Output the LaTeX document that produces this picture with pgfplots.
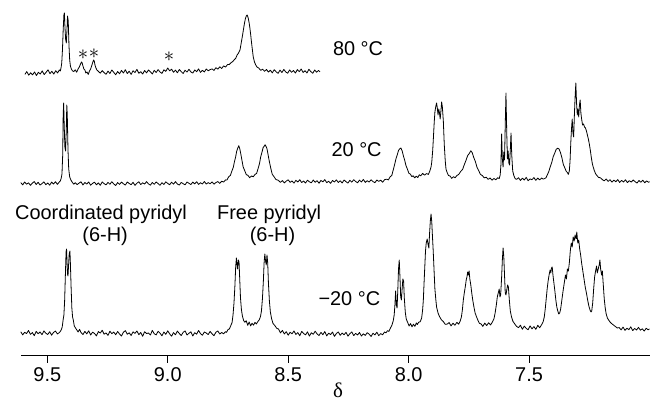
\documentclass[border=0pt]{standalone}
\usepackage{fontspec}
\setmainfont{Liberation Sans}
\newfontfamily\serifgreek{Liberation Serif}
\usepackage{pgfplots}
\pgfplotsset{compat=1.18}

\begin{document}
\begin{tikzpicture}
\begin{axis}[
  scale only axis, width=628.8bp, height=355bp,
  xmin=7.0, xmax=9.61, ymin=0, ymax=355,
  x dir=reverse,
  axis x line*=bottom, axis y line=none, ytick=\empty,
  xtick={7.5,8,8.5,9,9.5},
  /pgf/number format/assume math mode=true,
  xticklabel style={font=\fontsize{20}{20}\selectfont, yshift=-1.5bp,
    /pgf/number format/fixed, /pgf/number format/fixed zerofill,
    /pgf/number format/precision=1},
  tick align=outside, major tick length=8bp,
  x axis line style={line width=0.9bp},
  every tick/.style={black, line width=0.9bp},
  xlabel={\serifgreek δ},
  xlabel style={at={(axis description cs:0.5045,-0.099)}, anchor=center, inner sep=0pt, font=\fontsize{21}{21}\selectfont},
  clip=false,
]
% -20 C
\addplot[black, mark=none, line width=0.8bp, line join=round] coordinates {
(9.610,23.2)(9.602,20.1)(9.594,22.7)(9.586,21.4)(9.578,24.5)(9.570,20.6)(9.562,22.4)(9.554,19.3)(9.546,23.6)(9.538,21.2)(9.530,23.0)(9.522,20.3)(9.514,24.1)(9.506,21.7)(9.498,20.5)(9.490,23.3)(9.482,19.8)(9.474,22.6)(9.466,23.9)(9.458,21.0)(9.450,22.4)
(9.446,23.5)(9.442,25.2)(9.438,28.0)(9.434,35.5)(9.431,40)(9.428,54)(9.425,79)(9.422,103)(9.420,106)(9.418,93)(9.416,81)(9.414,79)(9.412,88)(9.409,101)(9.406,104)(9.404,91)(9.401,67)(9.398,47)(9.395,38)(9.392,35)(9.388,29)(9.384,27.5)(9.378,25.2)(9.372,23.0)(9.366,25.6)(9.360,22.5)
(9.352,20.4)(9.344,23.6)(9.336,21.1)(9.328,24.2)(9.320,20.0)(9.312,22.8)(9.304,21.5)(9.296,19.1)(9.288,23.4)(9.280,21.9)(9.272,24.7)(9.264,20.8)(9.256,22.1)(9.248,19.6)(9.240,23.8)(9.232,21.3)(9.224,22.9)(9.216,20.2)(9.208,23.5)(9.200,21.0)
(9.192,18.9)(9.184,22.7)(9.176,24.4)(9.168,20.7)(9.160,22.2)(9.152,19.5)(9.144,23.1)(9.136,21.6)(9.128,24.0)(9.120,20.3)(9.112,22.5)(9.104,18.7)(9.096,23.3)(9.088,21.4)(9.080,22.0)(9.072,19.9)(9.064,24.6)(9.056,21.2)(9.048,20.1)(9.040,23.7)
(9.032,21.8)(9.024,19.2)(9.016,22.9)(9.008,20.6)(9.000,24.2)(8.992,21.1)(8.984,18.8)(8.976,22.4)(8.968,20.2)(8.960,23.9)(8.952,21.5)(8.944,19.4)(8.936,22.6)(8.928,24.1)(8.920,20.0)(8.912,21.7)(8.904,23.2)(8.896,19.0)(8.888,22.3)(8.880,20.8)
(8.872,24.5)(8.864,21.3)(8.856,19.7)(8.848,23.0)(8.840,21.9)(8.832,20.4)(8.824,23.6)(8.816,21.1)(8.808,19.3)(8.800,22.8)(8.792,24.0)(8.784,20.9)(8.776,22.5)(8.768,21.2)(8.760,23.4)
(8.756,22.6)(8.750,25.4)(8.744,26.1)(8.738,29.5)(8.733,32.4)(8.729,40)(8.725,52)(8.721,70)(8.718,88)(8.715,97)(8.712,90)(8.710,86)(8.707,95)(8.704,93)(8.701,75)(8.698,57)(8.694,45)(8.690,39)(8.685,34.5)(8.680,32.8)(8.674,34.2)(8.668,29.6)(8.662,33.0)(8.656,29.1)(8.650,31.7)(8.644,29.8)(8.638,32.6)(8.632,31.0)(8.626,33.4)(8.620,35.2)(8.615,38.5)(8.611,44)(8.607,56)(8.603,74)(8.600,92)(8.597,101)(8.594,94)(8.591,90)(8.588,100)(8.585,92)(8.582,72)(8.578,54)(8.574,43)(8.569,36.4)(8.563,31.5)(8.556,29.6)(8.548,26.8)(8.540,25.9)
(8.532,22.1)(8.524,24.6)(8.516,21.0)(8.508,23.3)(8.500,19.8)(8.492,22.7)(8.484,21.2)(8.476,24.0)(8.468,20.5)(8.460,22.4)(8.452,19.2)(8.444,23.6)(8.436,21.5)(8.428,20.1)(8.420,23.1)(8.412,18.9)(8.404,22.2)(8.396,20.7)(8.388,23.8)(8.380,21.0)
(8.372,19.5)(8.364,22.6)(8.356,20.3)(8.348,23.4)(8.340,19.1)(8.332,21.8)(8.324,20.4)(8.316,22.9)(8.308,18.6)(8.300,21.5)(8.292,23.0)(8.284,19.7)(8.276,21.9)(8.268,20.2)(8.260,22.7)(8.252,18.8)(8.244,21.3)(8.236,23.1)(8.228,19.4)(8.220,21.6)
(8.212,20.0)(8.204,22.5)(8.196,18.9)(8.188,21.2)(8.180,19.6)(8.172,22.3)(8.164,20.8)(8.156,18.5)(8.148,21.7)(8.140,20.1)(8.132,22.8)(8.124,19.3)(8.116,21.4)(8.108,20.2)(8.100,23.0)(8.094,22.1)
(8.088,24.3)(8.082,23.6)(8.076,26.8)(8.070,29.5)(8.064,34)(8.060,40)(8.057,50)(8.054,64)(8.051,50)(8.048,47)(8.045,65)(8.042,86)(8.039,95)(8.036,78)(8.033,58)(8.030,55)(8.027,66)(8.024,76)(8.021,74)(8.018,57)(8.014,43)(8.010,36)(8.004,32.5)(7.998,29.0)(7.992,31.4)(7.986,28.2)(7.980,30.8)(7.974,28.6)(7.968,32.1)(7.964,30.5)(7.958,32.8)(7.952,33.2)
(7.946,37)(7.942,45)(7.939,55)(7.936,72)(7.933,88)(7.930,104)(7.927,112)(7.923,116)(7.919,110)(7.916,107)(7.913,122)(7.910,134)(7.907,141)(7.904,133)(7.901,118)(7.898,104)(7.894,82)(7.891,66)(7.887,55)(7.884,48)(7.878,42)(7.872,38.5)(7.864,35.2)(7.856,33.4)(7.848,30.6)
(7.840,30.9)(7.832,32.4)(7.824,29.1)(7.816,31.8)(7.808,29.7)(7.800,32.6)(7.792,30.8)(7.786,34)(7.781,38)(7.777,45)(7.773,55)(7.769,62)(7.765,68)(7.761,75)(7.758,78)(7.755,83)(7.752,80)(7.749,84)(7.746,76)(7.742,70)(7.738,62)(7.734,55)(7.729,48)(7.724,42)(7.718,38)(7.712,34.5)(7.706,31.6)
(7.700,31.2)(7.692,28.6)(7.684,31.9)(7.676,29.4)(7.668,32.3)(7.660,30.0)(7.652,33.1)(7.646,36)(7.641,42)(7.636,50)(7.632,58)(7.628,62)(7.624,66)(7.621,58)(7.618,60)(7.614,78)(7.611,95)(7.608,107)(7.605,98)(7.602,80)(7.599,62)(7.596,60)(7.592,66)(7.589,70)(7.586,68)(7.582,55)(7.578,44)(7.573,38)(7.567,33.6)(7.560,31.2)
(7.552,28.6)(7.544,27.3)(7.536,29.8)(7.528,25.7)(7.520,28.9)(7.512,26.6)(7.504,25.2)(7.496,29.1)(7.488,26.1)(7.480,28.4)(7.472,25.6)(7.464,29.7)(7.456,27.2)(7.448,30.3)(7.442,33)(7.437,38)(7.433,46)(7.429,56)(7.425,66)(7.421,74)(7.417,80)(7.413,85)(7.410,82)(7.407,87)(7.404,88)(7.401,80)(7.397,72)(7.393,64)(7.389,55)(7.385,48)
(7.381,44)(7.377,41)(7.373,42)(7.369,46)(7.364,55)(7.359,64)(7.354,72)(7.349,80)(7.345,76)(7.341,86)(7.337,84)(7.333,92)(7.329,104)(7.325,112)(7.321,108)(7.317,118)(7.313,114)(7.309,120)(7.305,116)(7.302,123)(7.298,112)(7.294,115)(7.290,106)(7.286,100)(7.282,92)(7.277,84)(7.272,76)(7.267,68)(7.262,62)(7.257,55)(7.252,49)(7.247,45)(7.243,43)
(7.240,44)(7.236,52)(7.232,66)(7.228,78)(7.224,84)(7.220,89)(7.217,82)(7.213,86)(7.209,90)(7.206,95)(7.203,86)(7.199,80)(7.196,84)(7.192,70)(7.188,56)(7.184,47)(7.180,41)(7.175,37)(7.170,35)(7.164,33)(7.158,31.5)(7.150,30)(7.142,28.5)(7.134,27)
(7.126,27.4)(7.118,25.1)(7.110,27.9)(7.102,24.6)(7.094,26.8)(7.086,25.3)(7.078,28.1)(7.070,24.4)(7.062,26.5)(7.054,25.0)(7.046,27.6)(7.038,24.8)(7.030,26.2)(7.022,23.9)(7.014,26.7)(7.006,25.2)(7.000,26.0)
};
% 20 C
\addplot[black, mark=none, line width=0.8bp, line join=round] coordinates {
(9.610,172.4)(9.602,170.1)(9.594,173.0)(9.586,170.8)(9.578,172.2)(9.570,169.6)(9.562,171.9)(9.554,173.4)(9.546,170.5)(9.538,172.7)(9.530,169.9)(9.522,171.4)(9.514,173.1)(9.506,170.3)(9.498,172.0)(9.490,169.8)(9.482,172.9)(9.474,171.0)(9.466,173.3)(9.458,170.6)
(9.452,172.5)(9.446,174)(9.442,177)(9.439,181)(9.436,200)(9.434,240)(9.432,252)(9.430,232)(9.427,208)(9.424,204)(9.421,226)(9.419,250)(9.417,240)(9.414,205)(9.411,186)(9.407,178)(9.402,175)(9.396,172.6)(9.390,170.8)
(9.384,172.3)(9.376,170.4)(9.368,171.9)(9.360,173.2)(9.352,170.0)(9.344,172.5)(9.336,170.9)(9.328,173.0)(9.320,169.8)(9.312,171.6)(9.304,172.8)(9.296,170.2)(9.288,172.1)(9.280,169.7)(9.272,173.1)(9.264,171.3)(9.256,170.1)(9.248,172.6)(9.240,170.7)(9.232,173.3)
(9.224,171.0)(9.216,169.5)(9.208,172.4)(9.200,170.6)(9.192,172.9)(9.184,171.2)(9.176,169.9)(9.168,173.0)(9.160,171.5)(9.152,170.3)(9.144,172.7)(9.136,169.6)(9.128,171.8)(9.120,173.2)(9.112,170.4)(9.104,172.2)(9.096,170.9)(9.088,173.4)(9.080,171.1)(9.072,169.8)
(9.064,172.5)(9.056,170.7)(9.048,173.0)(9.040,171.4)(9.032,169.7)(9.024,172.3)(9.016,170.5)(9.008,173.1)(9.000,171.6)(8.992,170.2)(8.984,172.8)(8.976,170.8)(8.968,173.4)(8.960,171.0)(8.952,169.9)(8.944,172.6)(8.936,171.3)(8.928,170.1)(8.920,173.0)(8.912,171.7)
(8.904,170.4)(8.896,172.9)(8.888,171.1)(8.880,173.3)(8.872,170.6)(8.864,172.2)(8.856,171.0)(8.848,173.5)(8.840,170.9)(8.832,172.4)(8.824,171.2)(8.816,173.1)(8.808,170.8)(8.800,172.5)
(8.792,173.4)(8.784,171.6)(8.776,173.8)(8.768,172.9)(8.760,175.1)(8.754,175.0)(8.747,178.2)(8.740,179.6)(8.734,183.8)(8.728,187.5)(8.723,193.4)(8.718,198.2)(8.714,203.5)(8.709,207.1)(8.705,209.3)(8.701,206.2)(8.697,201.5)(8.692,194.8)(8.687,188.2)(8.681,184.6)(8.674,180.4)(8.667,179.6)(8.660,177.3)(8.652,179.0)(8.645,178.2)(8.638,180.5)(8.631,181.6)(8.625,186.4)(8.619,191.5)(8.614,198.3)(8.609,202.6)(8.604,207.4)(8.600,208.7)(8.596,210.2)(8.592,208.6)(8.588,206.3)(8.583,199.7)(8.578,193.2)(8.572,186.5)(8.566,180.6)(8.559,178.4)(8.551,175.5)(8.542,174.8)(8.532,172.6)
(8.524,174.4)(8.516,172.1)(8.508,173.9)(8.500,175.2)(8.492,172.6)(8.484,174.1)(8.476,171.8)(8.468,174.7)(8.460,173.0)(8.452,175.3)(8.444,172.4)(8.436,174.0)(8.428,171.9)(8.420,174.8)(8.412,173.2)(8.404,172.1)(8.396,175.0)(8.388,172.7)(8.380,174.3)(8.372,171.7)
(8.364,174.6)(8.356,173.1)(8.348,175.4)(8.340,172.3)(8.332,173.8)(8.324,171.6)(8.316,174.5)(8.308,173.0)(8.300,175.1)(8.292,172.5)(8.284,174.2)(8.276,172.0)(8.268,175.0)(8.260,173.3)(8.252,171.9)(8.244,174.7)(8.236,172.8)(8.228,175.3)(8.220,173.5)(8.212,172.2)
(8.204,174.9)(8.196,173.0)(8.188,175.6)(8.180,172.6)(8.172,174.3)(8.164,172.9)(8.156,175.2)(8.148,173.4)(8.140,172.3)(8.132,175.0)(8.124,173.6)(8.116,174.8)(8.108,172.7)(8.100,175.3)
(8.092,175.8)(8.084,175.1)(8.077,178.2)(8.070,179.5)(8.064,185.0)(8.058,190.6)(8.052,196.8)(8.047,200.4)(8.042,204.6)(8.037,206.2)(8.032,207.0)(8.027,204.1)(8.022,199.3)(8.017,195.2)(8.011,189.4)(8.005,185.8)(7.999,181.7)(7.993,180.9)(7.987,178.4)(7.981,179.2)(7.975,177.1)(7.968,178.8)(7.962,177.4)(7.956,180.2)(7.950,179.1)(7.942,181.6)(7.934,179.8)(7.926,181.4)(7.918,180.6)(7.912,184.0)
(7.907,188)(7.904,193)(7.900,205)(7.897,218)(7.894,232)(7.891,243)(7.887,249)(7.884,252)(7.881,247)(7.878,240)(7.875,246)(7.872,242)(7.869,236)(7.866,244)(7.863,253)(7.860,248)(7.856,234)(7.852,210)(7.848,194)(7.845,186)(7.840,182.4)(7.835,179.6)(7.828,178.9)(7.821,176.6)(7.814,178.3)(7.807,177.2)
(7.800,179.4)(7.792,180.6)(7.784,183.5)(7.776,185.6)(7.769,190.3)(7.762,194.6)(7.755,199.4)(7.748,201.6)(7.742,204.2)(7.736,202.3)(7.730,197.6)(7.723,193.4)(7.716,187.5)(7.709,184.3)(7.702,180.6)(7.694,179.4)(7.686,177.1)(7.678,177.8)(7.670,175.6)(7.662,177.0)(7.654,174.8)(7.646,176.5)(7.638,175.2)(7.630,177.3)(7.624,176.4)
(7.620,180)(7.617,190)(7.614,221)(7.611,196)(7.608,188)(7.605,203)(7.602,195)(7.599,230)(7.596,262)(7.593,225)(7.590,196)(7.587,204)(7.584,192)(7.581,190)(7.578,205)(7.575,222)(7.572,200)(7.568,184)(7.563,179.2)(7.558,176.4)
(7.552,175.6)(7.544,177.3)(7.536,174.5)(7.528,176.8)(7.520,175.0)(7.512,177.6)(7.504,174.2)(7.496,176.1)(7.488,175.3)(7.480,177.4)(7.472,174.6)(7.464,176.9)(7.456,175.1)(7.448,177.0)(7.442,175.9)
(7.436,176.4)(7.430,177.2)(7.424,180.3)(7.418,183.6)(7.412,188.4)(7.406,192.5)(7.400,198.3)(7.394,201.6)(7.388,205.4)(7.382,206.8)(7.376,206.2)(7.370,202.6)(7.364,197.4)(7.358,190.6)(7.352,187.3)(7.346,183.7)(7.341,182.4)(7.337,180.6)
(7.333,184)(7.330,194)(7.327,212)(7.324,226)(7.321,236)(7.318,222)(7.315,218)(7.312,240)(7.309,258)(7.306,272)(7.303,252)(7.300,240)(7.297,246)(7.294,238)(7.291,250)(7.288,255)(7.285,242)(7.282,236)(7.278,230)(7.274,231)(7.270,228)(7.266,227)(7.262,224)(7.258,220)(7.254,216)(7.250,211)(7.246,205)(7.242,198)(7.238,192)(7.234,188)(7.229,184.3)(7.224,181.2)(7.218,179.4)(7.212,177.6)(7.204,177.2)(7.196,175.4)
(7.188,174.1)(7.180,176.0)(7.172,173.6)(7.164,175.3)(7.156,172.8)(7.148,174.9)(7.140,173.2)(7.132,175.4)(7.124,172.5)(7.116,174.6)(7.108,173.0)(7.100,175.2)(7.092,172.4)(7.084,174.3)(7.076,172.9)(7.068,175.0)(7.060,173.3)(7.052,171.9)(7.044,174.5)(7.036,172.7)(7.028,174.8)(7.020,172.2)(7.012,174.1)(7.004,172.6)(7.000,173.4)
};
% 80 C
\addplot[black, mark=none, line width=0.8bp, line join=round] coordinates {
(9.593,280.6)(9.585,283.4)(9.577,279.8)(9.569,282.2)(9.561,280.1)(9.553,283.0)(9.545,279.5)(9.537,282.7)(9.529,281.0)(9.521,284.1)(9.513,280.4)(9.505,282.6)(9.497,285.2)(9.489,281.3)(9.481,283.7)(9.473,280.9)(9.465,284.3)(9.457,282.0)(9.450,285.1)
(9.446,284)(9.443,287)(9.440,292)(9.437,305)(9.434,325)(9.431,340)(9.429,342)(9.427,330)(9.424,316)(9.421,312)(9.418,326)(9.416,339)(9.413,334)(9.410,310)(9.407,295)(9.404,289)(9.400,286)(9.395,284)
(9.390,283.5)(9.384,285.2)(9.378,282.8)(9.372,286.1)(9.367,288)(9.362,291)(9.358,293)(9.355,292)(9.352,289)(9.348,286)(9.344,285)(9.340,282)(9.335,283)(9.330,280.5)(9.325,284)(9.320,286)(9.316,289)(9.312,292)(9.308,295)(9.305,294)(9.302,290)(9.298,287)(9.294,285)(9.288,283.6)
(9.280,281.8)(9.272,284.4)(9.264,282.3)(9.256,280.7)(9.248,283.9)(9.240,281.5)(9.232,285.0)(9.224,282.6)(9.216,280.2)(9.208,283.5)(9.200,281.2)(9.192,284.6)(9.184,282.0)(9.176,285.3)(9.168,281.4)(9.160,283.8)(9.152,280.6)(9.144,284.2)(9.136,282.4)(9.128,285.6)
(9.120,281.7)(9.112,283.3)(9.104,280.9)(9.096,284.5)(9.088,282.1)(9.080,285.0)(9.072,283.2)(9.064,281.0)(9.056,284.7)(9.048,282.5)(9.040,285.4)(9.032,283.0)(9.024,281.6)(9.016,285.2)(9.008,283.6)(9.000,287.0)(8.992,284.1)(8.984,285.8)(8.976,282.7)(8.968,284.9)
(8.960,282.2)(8.952,285.5)(8.944,283.4)(8.936,281.5)(8.928,284.8)(8.920,282.9)(8.912,285.7)(8.904,283.1)(8.896,281.9)(8.888,285.0)(8.880,283.3)(8.872,286.1)(8.864,282.6)(8.856,284.7)(8.848,283.0)(8.840,286.0)(8.832,284.2)(8.824,285.4)
(8.816,286.1)(8.808,284.6)(8.800,287.3)(8.792,285.8)(8.784,288.2)(8.776,286.5)(8.768,289.1)(8.760,287.9)(8.752,290.4)(8.744,290.6)(8.737,292.3)(8.730,293.5)(8.724,295.2)(8.718,296.6)(8.712,300)(8.706,302)(8.700,305)(8.695,312)(8.690,319)(8.686,325)(8.682,331)(8.678,336)(8.674,339)(8.670,340)(8.666,337)(8.662,332)(8.659,327)(8.656,321)(8.652,312)(8.648,304)(8.645,298)(8.640,293)(8.635,290.2)(8.630,288.1)(8.622,286.9)(8.614,284.6)(8.606,285.8)(8.598,283.7)
(8.590,285.5)(8.582,282.9)(8.574,284.8)(8.566,282.1)(8.558,285.3)(8.550,283.2)(8.542,281.6)(8.534,284.9)(8.526,282.4)(8.518,285.6)(8.510,283.0)(8.502,281.8)(8.494,285.1)(8.486,282.7)(8.478,284.5)(8.470,281.9)(8.462,285.4)(8.454,283.3)(8.446,286.0)(8.438,282.5)
(8.430,284.3)(8.422,282.0)(8.414,285.7)(8.406,283.4)(8.398,281.7)(8.390,285.0)(8.382,282.8)(8.374,284.6)(8.368,283.1)
};
% labels
\node[font=\fontsize{20}{20}\selectfont, anchor=base] at (axis cs:8.210,299.3) {80 °C};
\node[font=\fontsize{20}{20}\selectfont, anchor=base] at (axis cs:8.216,198.3) {20 °C};
\node[font=\fontsize{20}{20}\selectfont, anchor=base] at (axis cs:8.246,49) {−20 °C};
\node[font=\fontsize{20}{20}\selectfont, anchor=base] at (axis cs:9.277,135.7) {Coordinated pyridyl};
\node[font=\fontsize{20}{20}\selectfont, anchor=base] at (axis cs:9.260,113.3) {(6-H)};
\node[font=\fontsize{20}{20}\selectfont, anchor=base] at (axis cs:8.579,135.7) {Free pyridyl};
\node[font=\fontsize{20}{20}\selectfont, anchor=base] at (axis cs:8.565,113.3) {(6-H)};
% impurity marks
\node[font=\fontsize{22}{22}\selectfont, inner sep=0pt] at (axis cs:9.352,300) {$\ast$};
\node[font=\fontsize{22}{22}\selectfont, inner sep=0pt] at (axis cs:9.306,301) {$\ast$};
\node[font=\fontsize{22}{22}\selectfont, inner sep=0pt] at (axis cs:8.995,298) {$\ast$};
\coordinate (bbA) at (axis cs:9.6963,355);
\coordinate (bbB) at (axis cs:6.9940,-48);
\end{axis}
\pgfresetboundingbox
\path (bbA) rectangle (bbB);
\end{tikzpicture}
\end{document}
